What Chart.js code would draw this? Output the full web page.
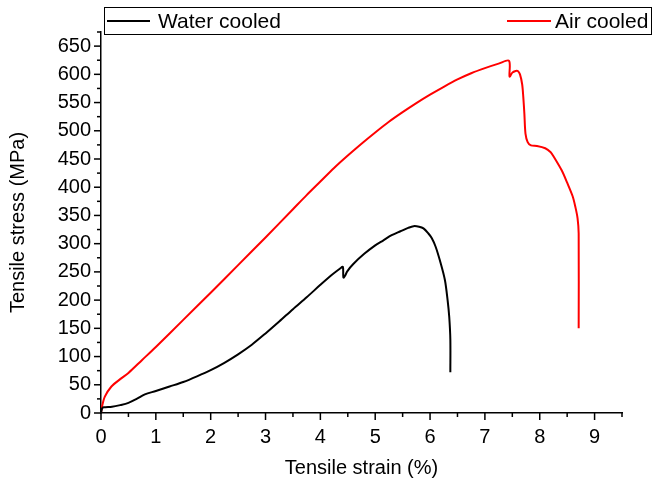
<!DOCTYPE html>
<html>
<head>
<meta charset="utf-8">
<script src="https://cdn.jsdelivr.net/npm/chart.js@4/dist/chart.umd.min.js"></script>
<style>
  html, body { margin: 0; padding: 0; background: #fff; }
  #wrap { width: 653px; height: 481px; }
</style>
</head>
<body>
<div id="wrap"><canvas id="c" width="653" height="481"></canvas></div>
<script>
// ---- data ----
const waterStrain = [0, 0.02, 0.05, 0.2, 0.35, 0.5, 0.65, 0.8, 1.0, 1.25, 1.5, 1.75, 2.0, 2.25, 2.5, 2.75, 3.0, 3.25, 3.5, 3.75, 4.0, 4.2, 4.36, 4.41, 4.42, 4.45, 4.49, 4.6, 4.8, 5.0, 5.15, 5.3, 5.46, 5.6, 5.7, 5.8, 5.88, 5.97, 6.03, 6.1, 6.18, 6.27, 6.32, 6.35, 6.37, 6.37];
const waterStress = [0, 8, 10, 11, 14, 18, 25, 33, 39, 47, 55, 65, 76, 89, 104, 121, 141, 162, 184, 205, 227, 244, 256, 259, 240, 243, 251, 264, 282, 297, 306, 315, 322, 328, 331, 330, 327, 318, 310, 295, 270, 236, 200, 170, 130, 72];

const airStrain = [0, 0.02, 0.07, 0.19, 0.35, 0.5, 0.75, 1.0, 1.5, 2.0, 2.5, 3.0, 3.5, 3.75, 4.0, 4.25, 4.5, 4.75, 5.0, 5.25, 5.5, 5.75, 6.0, 6.25, 6.5, 6.75, 7.0, 7.25, 7.44, 7.45, 7.5, 7.56, 7.6, 7.64, 7.68, 7.7, 7.72, 7.74, 7.78, 7.84, 7.95, 8.1, 8.2, 8.25, 8.4, 8.5, 8.6, 8.65, 8.69, 8.71, 8.71];
const airStress = [0, 12, 29, 47, 60, 71, 94, 117, 165, 213, 262, 311, 361, 386, 410, 434, 456, 477, 497, 516, 533, 549, 564, 578, 591, 602, 611, 619, 624, 596, 603, 606, 606, 600, 582, 560, 530, 495, 480, 474, 473, 469, 462, 455, 430, 408, 384, 365, 345, 318, 150];

const seriesLabels = ['Water cooled', 'Air cooled'];
const seriesColors = ['#000000', '#ff0000'];

const xTickValues = [0, 0.5, 1, 1.5, 2, 2.5, 3, 3.5, 4, 4.5, 5, 5.5, 6, 6.5, 7, 7.5, 8, 8.5, 9, 9.5];
const xTickLabels = ['0', '', '1', '', '2', '', '3', '', '4', '', '5', '', '6', '', '7', '', '8', '', '9', ''];
const yTickValues = [0, 25, 50, 75, 100, 125, 150, 175, 200, 225, 250, 275, 300, 325, 350, 375, 400, 425, 450, 475, 500, 525, 550, 575, 600, 625, 650, 675];
const yTickLabels = ['0', '', '50', '', '100', '', '150', '', '200', '', '250', '', '300', '', '350', '', '400', '', '450', '', '500', '', '550', '', '600', '', '650', ''];

const FONT = '"Liberation Sans", Arial, Helvetica, sans-serif';

function toPoints(xs, ys) { return xs.map((x, i) => ({ x: x, y: ys[i] })); }

const tickMarks = {
  id: 'tickMarks',
  afterDraw(chart) {
    const ctx = chart.ctx;
    const xs = chart.scales.x, ys = chart.scales.y;
    ctx.save();
    ctx.strokeStyle = '#000';
    ctx.lineWidth = 1.5;
    xTickValues.forEach((v, i) => {
      const px = xs.getPixelForValue(v);
      const len = xTickLabels[i] !== '' ? 7 : 4;
      ctx.beginPath();
      ctx.moveTo(px, xs.top);
      ctx.lineTo(px, xs.top + len);
      ctx.stroke();
    });
    yTickValues.forEach((v, i) => {
      const py = ys.getPixelForValue(v);
      const len = yTickLabels[i] !== '' ? 7 : 4;
      ctx.beginPath();
      ctx.moveTo(ys.right, py);
      ctx.lineTo(ys.right - len, py);
      ctx.stroke();
    });
    ctx.restore();
  }
};

const boxLegend = {
  id: 'boxLegend',
  afterDraw(chart) {
    const ctx = chart.ctx;
    ctx.save();
    ctx.strokeStyle = '#000';
    ctx.lineWidth = 1;
    ctx.strokeRect(104.5, 7.5, 547, 27);
    const ds = chart.data.datasets;
    const items = [
      { x0: 107, x1: 150, tx: 158 },
      { x0: 507, x1: 551, tx: 555 }
    ];
    ctx.font = '21px ' + FONT;
    ctx.textBaseline = 'middle';
    ctx.textAlign = 'left';
    items.forEach((it, i) => {
      ctx.strokeStyle = ds[i].borderColor;
      ctx.lineWidth = 2;
      ctx.beginPath();
      ctx.moveTo(it.x0, 21);
      ctx.lineTo(it.x1, 21);
      ctx.stroke();
      ctx.fillStyle = '#000';
      ctx.fillText(ds[i].label, it.tx, 22);
    });
    ctx.restore();
  }
};

new Chart(document.getElementById('c'), {
  type: 'scatter',
  data: {
    datasets: [
      { label: seriesLabels[0], data: toPoints(waterStrain, waterStress), borderColor: seriesColors[0], backgroundColor: seriesColors[0], showLine: true, pointRadius: 0, borderWidth: 2, tension: 0.3 },
      { label: seriesLabels[1], data: toPoints(airStrain, airStress), borderColor: seriesColors[1], backgroundColor: seriesColors[1], showLine: true, pointRadius: 0, borderWidth: 2, tension: 0.3 }
    ]
  },
  options: {
    responsive: false,
    animation: false,
    events: [],
    layout: { padding: { top: 32, right: 31, left: 0, bottom: 0 } },
    plugins: { legend: { display: false }, tooltip: { enabled: false } },
    scales: {
      x: {
        type: 'linear', min: 0, max: 9.5,
        afterBuildTicks(scale) { scale.ticks = xTickValues.map(v => ({ value: v })); },
        afterFit(scale) { scale.height = 68; },
        grid: { display: false, drawTicks: false },
        border: { display: true, color: '#000', width: 1.5 },
        ticks: {
          autoSkip: false, maxRotation: 0, padding: 12, color: '#000',
          font: { family: FONT, size: 20 },
          callback(v, i) { return xTickLabels[i]; }
        },
        title: { display: true, text: 'Tensile strain (%)', color: '#000', font: { family: FONT, size: 20 }, padding: { top: 0, bottom: 1 } }
      },
      y: {
        type: 'linear', min: 0, max: 675,
        afterBuildTicks(scale) { scale.ticks = yTickValues.map(v => ({ value: v })); },
        afterFit(scale) { scale.width = 101; },
        grid: { display: false, drawTicks: false },
        border: { display: true, color: '#000', width: 1.5 },
        ticks: {
          autoSkip: false, padding: 10, color: '#000',
          font: { family: FONT, size: 20 },
          callback(v, i) { return yTickLabels[i]; }
        },
        title: { display: true, text: 'Tensile stress (MPa)', color: '#000', font: { family: FONT, size: 20 }, padding: { top: 6, bottom: 0 } }
      }
    }
  },
  plugins: [tickMarks, boxLegend]
});
</script>
</body>
</html>
